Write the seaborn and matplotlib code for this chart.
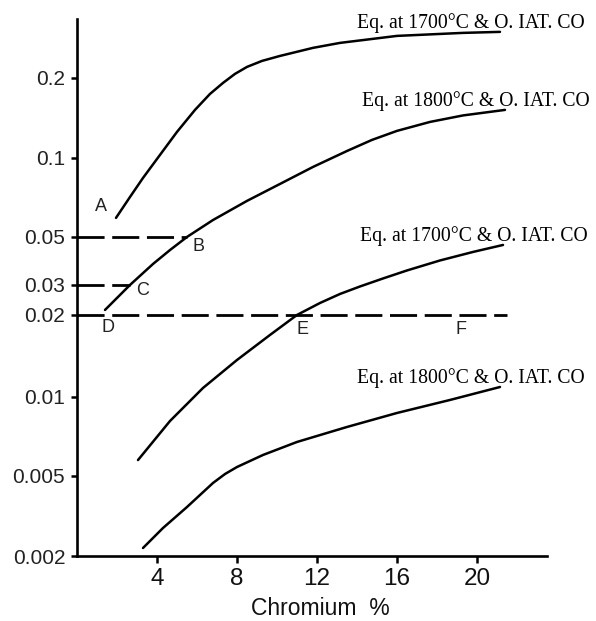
import numpy as np
import pandas as pd
import matplotlib
matplotlib.use("Agg")
import matplotlib.pyplot as plt
import seaborn as sns

# Oxygen content vs chromium content, four equilibrium curves
curve_names = [
    "Eq. at 1700°C & O. IAT. CO (upper)",
    "Eq. at 1800°C & O. IAT. CO (upper)",
    "Eq. at 1700°C & O. IAT. CO (lower)",
    "Eq. at 1800°C & O. IAT. CO (lower)",
]
curve_labels = [
    "Eq. at 1700°C & O. IAT. CO",
    "Eq. at 1800°C & O. IAT. CO",
    "Eq. at 1700°C & O. IAT. CO",
    "Eq. at 1800°C & O. IAT. CO",
]

cr_1 = [1.95, 2.65, 3.3, 4.0, 5.0, 5.9, 6.65, 7.3, 7.9, 8.5, 9.25, 10.15, 11.8, 13.15, 16.0, 19.3, 21.15]
o_1 = [0.0591, 0.0710, 0.0839, 0.0991, 0.1253, 0.1516, 0.1741, 0.1915, 0.2071, 0.2200,
       0.2317, 0.2419, 0.2594, 0.2708, 0.2877, 0.2953, 0.2979]

cr_2 = [1.4, 2.65, 3.8, 4.65, 5.5, 6.8, 8.5, 10.15, 11.8, 13.5, 14.75, 16.0, 17.65, 19.3, 21.4]
o_2 = [0.0214, 0.0300, 0.0375, 0.0435, 0.0500, 0.0580, 0.0686, 0.0796, 0.0924, 0.1062,
       0.1169, 0.1264, 0.1366, 0.1445, 0.1516]

cr_3 = [3.05, 4.65, 6.3, 8.0, 9.65, 11.0, 12.15, 13.15, 14.15, 15.3, 16.5, 18.15, 19.8, 21.3]
o_3 = [0.00575, 0.00810, 0.01079, 0.01367, 0.01689, 0.0200, 0.02351, 0.02656, 0.02939,
       0.03214, 0.03500, 0.03893, 0.04262, 0.04591]

cr_4 = [3.3, 4.3, 5.5, 6.8, 7.4, 8.0, 9.3, 11.0, 13.5, 16.0, 18.65, 21.15]
o_4 = [0.002192, 0.002756, 0.003505, 0.004615, 0.005087, 0.005410, 0.006012, 0.006739,
       0.007686, 0.008690, 0.009741, 0.01088]

# Reference levels (dashed) and where they stop
ref_levels = [0.05, 0.03, 0.02]
ref_end_cr = [5.5, 2.65, 21.5]

# Marked points
point_labels = ["A", "B", "C", "D", "E", "F"]
point_cr = [1.95, 5.5, 2.65, 1.4, 11.0, 19.2]
point_o = [0.0591, 0.05, 0.03, 0.02, 0.02, 0.02]

x_ticks = [4, 8, 12, 16, 20]
y_ticks = [0.002, 0.005, 0.01, 0.02, 0.03, 0.05, 0.1, 0.2]
y_ticklabels = ["0.002", "0.005", "0.01", "0.02", "0.03", "0.05", "0.1", "0.2"]

# ---------------------------------------------------------------------------
# Non-uniform graduated oxygen axis: tick values and their heights along the axis
scale_logs = np.log10(np.array([1e-8, 0.002, 0.005, 0.01, 0.02, 0.03, 0.05, 0.1, 0.2, 1e3]))
scale_pos = np.array([-1065.0, 0.0, 80.0, 159.0, 241.0, 271.0, 319.0, 398.0, 478.0, 1462.0])


def oxygen_forward(v):
    v = np.asarray(v, dtype=float)
    return np.interp(np.log10(np.clip(v, 1e-12, None)), scale_logs, scale_pos)


def oxygen_inverse(u):
    u = np.asarray(u, dtype=float)
    return 10 ** np.interp(u, scale_pos, scale_logs)


sns.set_style("ticks")
plt.rcParams["font.family"] = ["Liberation Sans", "DejaVu Sans"]
plt.rcParams["lines.scale_dashes"] = False

fig = plt.figure(figsize=(5.96, 6.21), dpi=100)
ax = fig.add_axes([77 / 596, 1 - 556 / 621, 470 / 596, 537 / 621])

frames = []
for name, xs, ys in zip(curve_names, [cr_1, cr_2, cr_3, cr_4], [o_1, o_2, o_3, o_4]):
    frames.append(pd.DataFrame({"Cr": xs, "O": ys, "curve": name}))
df = pd.concat(frames, ignore_index=True)

sns.lineplot(data=df, x="Cr", y="O", units="curve", estimator=None, sort=False,
             color="black", lw=1.8, ax=ax, legend=False)

# Dashed reference levels starting at the oxygen axis
for level, x_end in zip(ref_levels, ref_end_cr):
    ax.plot([0, x_end], [level, level], color="black", lw=2.0,
            linestyle=(0, (19.5, 5.5)), solid_capstyle="butt", dash_capstyle="butt")

ax.set_yscale("function", functions=(oxygen_forward, oxygen_inverse))
ax.set_xlim(0, 23.5)
ax.set_ylim(0.002, 0.333)

ax.set_xticks(x_ticks)
ax.set_xticklabels([str(t) for t in x_ticks])
ax.set_yticks(y_ticks)
ax.set_yticklabels(y_ticklabels)
ax.minorticks_off()

ax.tick_params(axis="x", direction="out", length=5, width=1.8, pad=3.5,
               labelsize=17.5, color="black", labelcolor="#111111")
ax.tick_params(axis="y", direction="out", length=4.5, width=1.8, pad=4,
               labelsize=15, color="black", labelcolor="#222222")

for side in ["top", "right"]:
    ax.spines[side].set_visible(False)
for side in ["left", "bottom"]:
    ax.spines[side].set_linewidth(1.9)
    ax.spines[side].set_color("black")

ax.set_xlabel("Chromium  %", fontsize=16.5, color="#111111", va="baseline")
ax.set_ylabel("")
ax.xaxis.set_label_coords(0.517, (556 - 615) / 537)

# Point letters
letter_offsets = [(-15, 11), (11, -10), (13, -6), (3, -13), (5, -15), (0, -15)]
for lab, x, y, off in zip(point_labels, point_cr, point_o, letter_offsets):
    ax.annotate(lab, xy=(x, y), xytext=off, textcoords="offset pixels",
                ha="center", va="center", fontsize=13, color="#222222")

# Curve captions at the curve ends
for lab, xs, ys in zip(curve_labels, [cr_1, cr_2, cr_3, cr_4], [o_1, o_2, o_3, o_4]):
    ax.annotate(lab, xy=(xs[-1], ys[-1]), xytext=(-143, 4), textcoords="offset pixels",
                ha="left", va="baseline", fontsize=14.2, family=["Liberation Serif", "DejaVu Serif"],
                color="black", annotation_clip=False)

fig.savefig("out.png", dpi=100, facecolor="white")
